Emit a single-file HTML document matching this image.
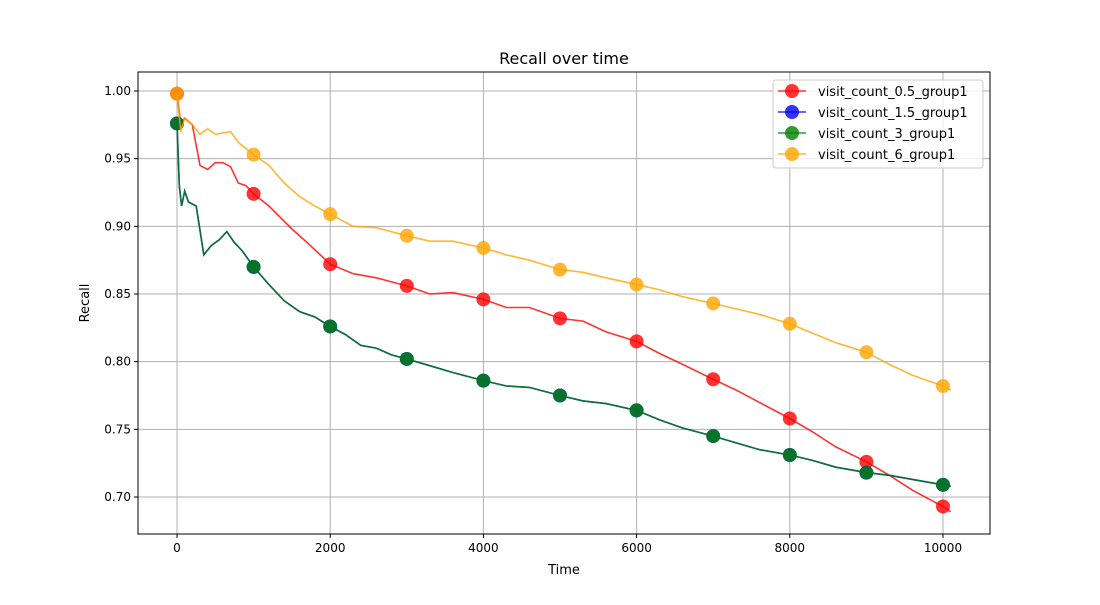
<!DOCTYPE html>
<html><head><meta charset="utf-8"><style>
body{margin:0;background:#fff;font-family:"Liberation Sans","DejaVu Sans",sans-serif;}
svg text{font-family:"DejaVu Sans","Liberation Sans",sans-serif;}
</style></head><body>
<svg id="chart" width="1100" height="600" xmlns="http://www.w3.org/2000/svg">
<rect width="1100" height="600" fill="#fff"/>
<g id="grid"></g><g id="series"></g><g id="axes"></g>
</svg>
<script>
const xTicks=[0,2000,4000,6000,8000,10000];
const yTicks=[0.70,0.75,0.80,0.85,0.90,0.95,1.00];
const markerTimes=[0,1000,2000,3000,4000,5000,6000,7000,8000,9000,10000];
const redT=[0,50,100,200,300,400,500,600,700,800,900,1000,1200,1500,1700,2000,2300,2600,3000,3300,3600,4000,4300,4600,5000,5300,5600,6000,6300,6600,7000,7300,7600,8000,8300,8600,9000,9300,9600,10000,10100];
const redV=[0.998,0.975,0.98,0.975,0.945,0.942,0.947,0.947,0.944,0.932,0.93,0.924,0.915,0.898,0.888,0.872,0.865,0.862,0.856,0.85,0.851,0.846,0.84,0.84,0.832,0.83,0.822,0.815,0.806,0.798,0.787,0.779,0.77,0.758,0.748,0.737,0.726,0.716,0.705,0.693,0.689];
const orT=[0,50,100,200,300,400,500,700,800,1000,1200,1400,1600,1800,2000,2300,2600,3000,3300,3600,4000,4300,4600,5000,5300,5600,6000,6300,6600,7000,7300,7600,8000,8300,8600,9000,9300,9600,10000,10100];
const orV=[0.998,0.97,0.98,0.975,0.968,0.972,0.968,0.97,0.962,0.953,0.945,0.932,0.922,0.915,0.909,0.9,0.899,0.893,0.889,0.889,0.884,0.879,0.875,0.868,0.866,0.862,0.857,0.853,0.848,0.843,0.839,0.835,0.828,0.821,0.814,0.807,0.798,0.79,0.782,0.779];
const grT=[0,30,60,100,150,250,350,450,550,650,750,850,1000,1200,1400,1600,1800,2000,2200,2400,2600,2800,3000,3300,3600,4000,4300,4600,5000,5300,5600,6000,6300,6600,7000,7300,7600,8000,8300,8600,9000,9300,9600,10000,10100];
const grV=[0.976,0.93,0.915,0.926,0.918,0.915,0.879,0.886,0.89,0.896,0.888,0.882,0.87,0.857,0.845,0.837,0.833,0.826,0.82,0.812,0.81,0.805,0.802,0.797,0.792,0.786,0.782,0.781,0.775,0.771,0.769,0.764,0.757,0.751,0.745,0.74,0.735,0.731,0.727,0.722,0.718,0.716,0.713,0.709,0.708];
const legendLabels=["visit_count_0.5_group1","visit_count_1.5_group1","visit_count_3_group1","visit_count_6_group1"];
const NS="http://www.w3.org/2000/svg";
const L=138,R=990,T=72,B=534;
const xs=t=>177+t*(943-177)/10000;
const ys=v=>91+(1-v)*(497-91)/0.30;
function mk(tag,at,parent){const e=document.createElementNS(NS,tag);for(const k in at)e.setAttribute(k,at[k]);parent.appendChild(e);return e;}
const grid=document.getElementById('grid'),ser=document.getElementById('series'),ax=document.getElementById('axes');
xTicks.forEach(t=>{const l=mk('line',{x1:xs(t),x2:xs(t),y1:T,y2:B,stroke:'#b0b0b0','stroke-width':1},grid);

mk('line',{x1:xs(t),x2:xs(t),y1:B,y2:B+4,stroke:'#000'},ax);
const tx=mk('text',{x:xs(t),y:B+18,'text-anchor':'middle','font-size':12},ax);tx.textContent=t;
});
yTicks.forEach(v=>{const l=mk('line',{x1:L,x2:R,y1:ys(v),y2:ys(v),stroke:'#b0b0b0','stroke-width':1},grid);

mk('line',{x1:L-4,x2:L,y1:ys(v),y2:ys(v),stroke:'#000'},ax);
const tx=mk('text',{x:L-7,y:ys(v)+4,'text-anchor':'end','font-size':12},ax);tx.textContent=v.toFixed(2);
});
function interp(T_,V,t){for(let i=0;i<T_.length-1;i++){if(t>=T_[i]&&t<=T_[i+1]){const f=(t-T_[i])/(T_[i+1]-T_[i]);return V[i]+f*(V[i+1]-V[i]);}}return V[V.length-1];}
function series(T_,V,color,name){const d=T_.map((t,i)=>(i?'L':'M')+xs(t).toFixed(1)+','+ys(V[i]).toFixed(1)).join('');
const p=mk('path',{d,fill:'none',stroke:color,'stroke-width':1.6,'stroke-opacity':0.8},ser);

markerTimes.forEach(t=>{const c=mk('circle',{cx:xs(t),cy:ys(interp(T_,V,t)),r:7,fill:color,'fill-opacity':0.8},ser);
});}
series(redT,redV,'#ff0000','visit-count-0.5');
series(grT,grV,'#0000ff','visit-count-1.5');
series(grT,grV,'#008000','visit-count-3');
series(orT,orV,'#ffa500','visit-count-6');
const fr=mk('rect',{x:L,y:T,width:R-L,height:B-T,fill:'none',stroke:'#000','stroke-width':1},ax);

const ti=mk('text',{x:564,y:64,'text-anchor':'middle','font-size':16},ax);ti.textContent='Recall over time';

const xl=mk('text',{x:564,y:574,'text-anchor':'middle','font-size':13},ax);xl.textContent='Time';

const yl=mk('text',{x:89,y:303,'text-anchor':'middle','font-size':13,transform:'rotate(-90 89 303)'},ax);yl.textContent='Recall';

const lg=mk('g',{},ax);
mk('rect',{x:773,y:80,width:210,height:88,rx:3,fill:'#fff','fill-opacity':0.8,stroke:'#ccc'},lg);
const cols=['#ff0000','#0000ff','#008000','#ffa500'];
legendLabels.forEach((s,i)=>{const y=91+i*21;const g=mk('g',{},lg);

mk('line',{x1:778,x2:806,y1:y,y2:y,stroke:cols[i],'stroke-width':1.6,'stroke-opacity':0.8},g);
mk('circle',{cx:792,cy:y,r:7,fill:cols[i],'fill-opacity':0.8},g);
const tx=mk('text',{x:818,y:y+5,'font-size':13},g);tx.textContent=s;});
</script>
</body></html>
